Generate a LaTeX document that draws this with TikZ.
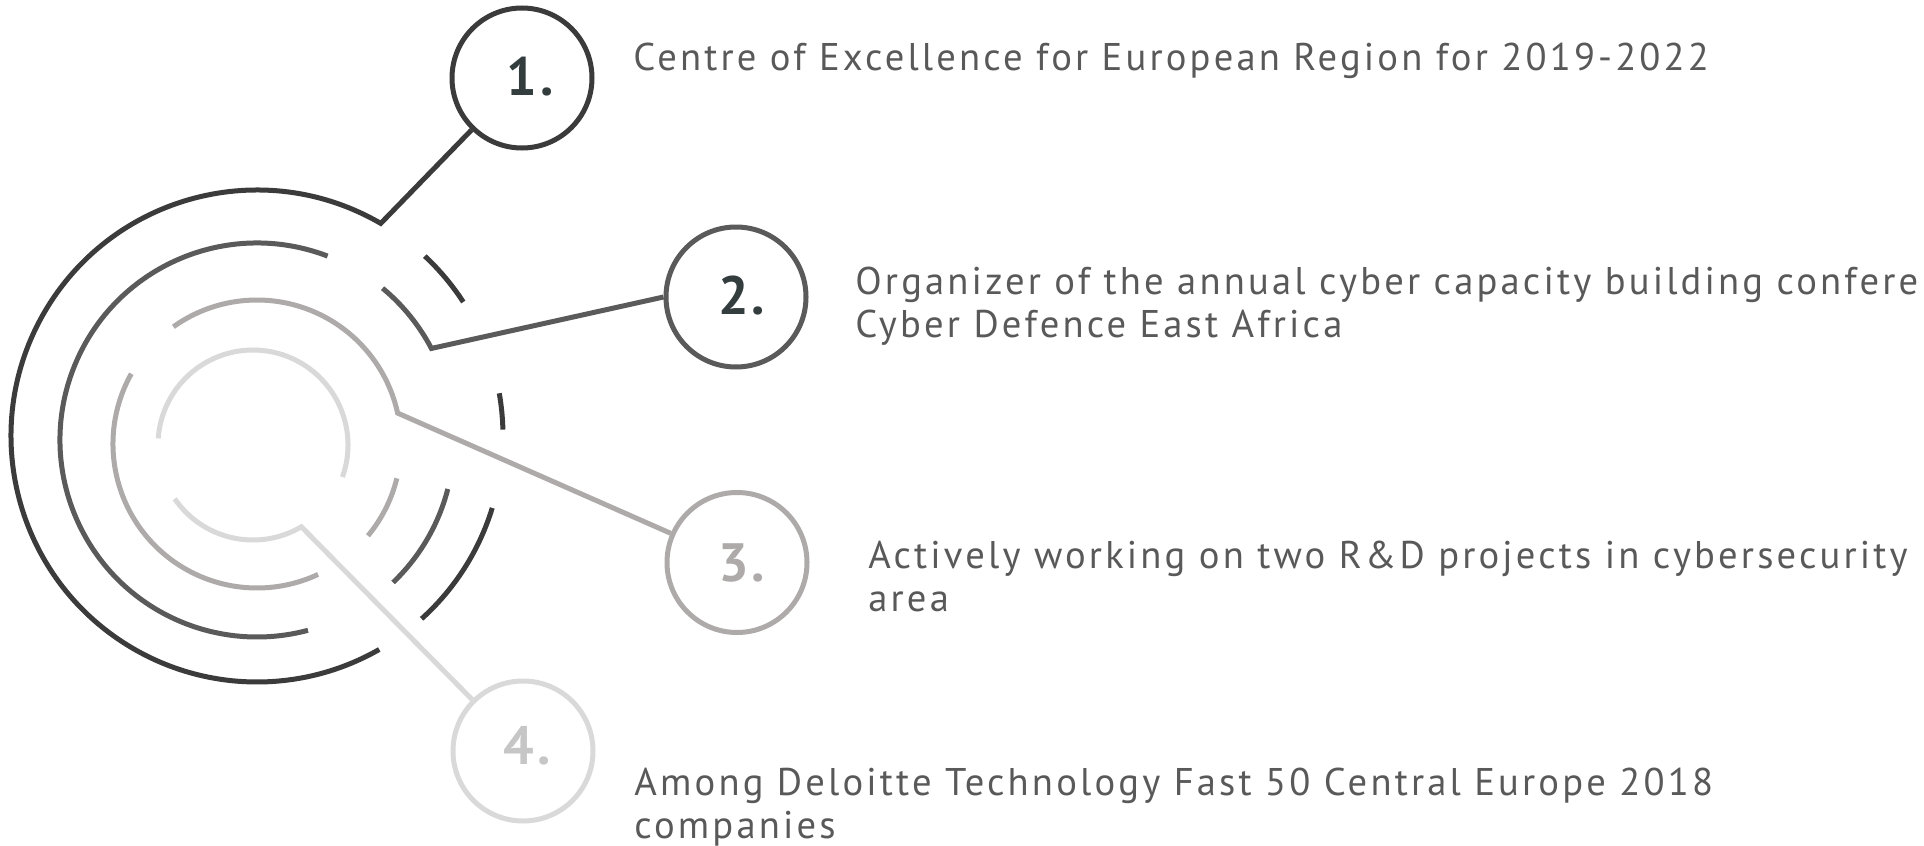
\documentclass[tikz,border=0pt]{standalone}
\usepackage{fontspec}
\newfontfamily\txtfont[LetterSpace=8.2]{PT Sans}
\newfontfamily\numfont[LetterSpace=6.0]{PT Sans Bold}
\definecolor{colA}{HTML}{3B3B3B}
\definecolor{colB}{HTML}{5A5A5A}
\definecolor{colC}{HTML}{AEAAAA}
\definecolor{colD}{HTML}{D9D9D9}
\definecolor{txtgray}{HTML}{595959}
\definecolor{numdark}{HTML}{333D3D}
\definecolor{numlight}{HTML}{C6C6C6}
\begin{document}
\begin{tikzpicture}[x=0.5pt,y=0.5pt,line join=miter,
  ringA/.style={draw=colA,line width=2.5pt},
  ringB/.style={draw=colB,line width=2.5pt},
  ringC/.style={draw=colC,line width=2.5pt},
  ringD/.style={draw=colD,line width=2.5pt},
  bubble/.style={circle,line width=2.5pt,minimum size=70pt,inner sep=0pt},
  num/.style={font=\numfont\fontsize{27pt}{28pt}\selectfont,inner sep=0pt},
  txt/.style={font=\txtfont\fontsize{19.3pt}{21.5pt}\selectfont,text=txtgray,inner sep=0pt,anchor=base west,align=left}]
\useasboundingbox (0,0) rectangle (1924,-846);
\fill[white] (0,0) rectangle (1924,-846);
% ring centres
\coordinate (o1) at (257,-436);
\coordinate (o2) at (257,-440);
\coordinate (o3) at (257,-444);
\coordinate (o4) at (253,-445);
% junction points
\coordinate (p1) at ([shift={(59.8:246)}]o1);
\coordinate (p2) at ([shift={(27.7:197)}]o2);
\coordinate (p3) at ([shift={(12.4:144)}]o3);
\coordinate (p4) at ([shift={(300.6:95)}]o4);
% bubbles
\node[bubble,draw=colA] (c1) at (522,-78) {};
\node[bubble,draw=colB] (c2) at (736,-297) {};
\node[bubble,draw=colC] (c3) at (737,-562.5) {};
\node[bubble,draw=colD] (c4) at (523,-751) {};
% numbers
\node[num,text=numdark] (n1) at (530,-76.5) {1.};
\node[num,text=numdark] (n2) at (741.7,-295.5) {2.};
\node[num,text=colC] (n3) at (741.7,-562.5) {3.};
\node[num,text=numlight] (n4) at (527.5,-746) {4.};
% ring 1
\draw[ringA] (c1) -- (p1) arc[start angle=59.8,end angle=299.8,radius=246];
\draw[ringA] ([shift={(33:246)}]o1) arc[start angle=33,end angle=47,radius=246];
\draw[ringA] ([shift={(1.5:246)}]o1) arc[start angle=1.5,end angle=10,radius=246];
\draw[ringA] ([shift={(-48:246)}]o1) arc[start angle=-48,end angle=-17,radius=246];
% ring 2
\draw[ringB] (c2.west) -- (p2) arc[start angle=27.7,end angle=50.4,radius=197];
\draw[ringB] ([shift={(69:197)}]o2) arc[start angle=69,end angle=285,radius=197];
\draw[ringB] ([shift={(-46.3:197)}]o2) arc[start angle=-46.3,end angle=-14.4,radius=197];
% ring 3
\draw[ringC] (c3) -- (p3) arc[start angle=12.4,end angle=125.5,radius=144];
\draw[ringC] ([shift={(150.8:144)}]o3) arc[start angle=150.8,end angle=295.1,radius=144];
\draw[ringC] ([shift={(-39.6:144)}]o3) arc[start angle=-39.6,end angle=-13.8,radius=144];
% ring 4
\draw[ringD] (c4) -- (p4) arc[start angle=300.6,end angle=214.5,radius=95];
\draw[ringD] ([shift={(-19.7:95)}]o4) arc[start angle=-19.7,end angle=176,radius=95];
% texts (anchor at the baseline of the last line)
\node[txt] (t1) at (633,-70) {Centre of Excellence for European Region for 2019-2022};
\node[txt] (t2) at (855,-337.5) {Organizer of the annual cyber capacity building conference\\Cyber Defence East Africa};
\node[txt] (t3) at (868,-611) {Actively working on two R\&D projects in cybersecurity\\area};
\node[txt] (t4) at (634,-838) {Among Deloitte Technology Fast 50 Central Europe 2018\\companies};
\end{tikzpicture}
\end{document}
